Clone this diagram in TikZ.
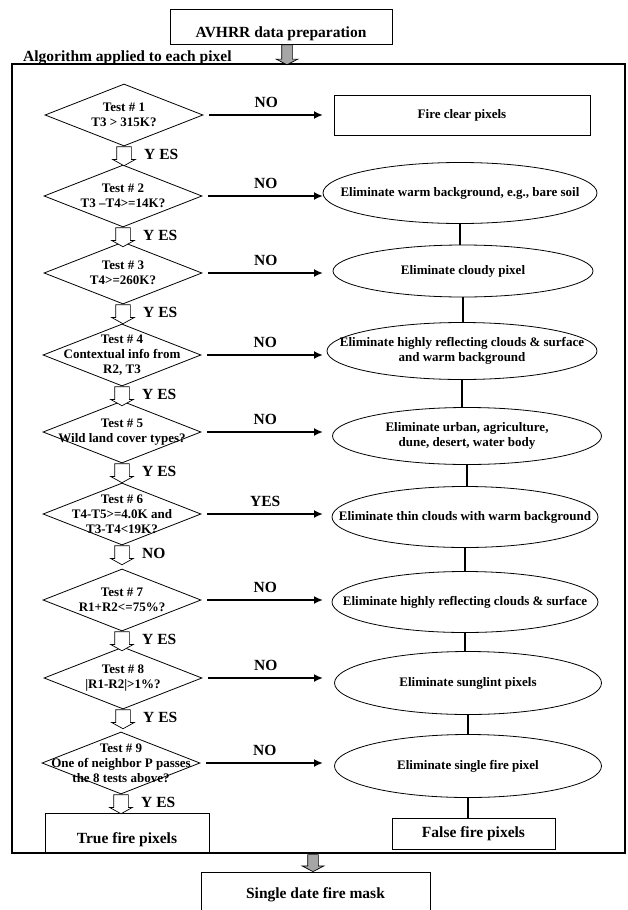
\documentclass[tikz,border=0pt]{standalone}
\usepackage{fontspec}
\setmainfont{Liberation Serif}
\usetikzlibrary{shapes.geometric,shapes.arrows,arrows.meta}

\begin{document}
\begin{tikzpicture}[x=1pt,y=-1pt,
big/.style = {font=\fontsize{15.5}{18}\selectfont\bfseries},
small/.style = {font=\fontsize{13}{15}\selectfont\bfseries},
every label/.style = {small,align=center,inner sep=0pt},
test/.style = {diamond,draw,line width=0.8pt,inner sep=0pt,minimum width=158pt,minimum height=62pt},
elim/.style = {ellipse,draw,line width=0.8pt,inner sep=0pt,minimum width=266pt,minimum height=61pt},
box/.style = {rectangle,draw,line width=0.8pt,inner sep=0pt,big},
low/.style = {text height=25pt,text depth=2.6pt},   % text sits under the middle
hollow/.style = {single arrow,draw,fill=white,line width=0.7pt,rotate=-90,inner xsep=0pt,inner ysep=7pt,
  minimum height=19pt,single arrow head extend=4pt,single arrow tip angle=122,anchor=tail},
block/.style = {single arrow,draw,fill=gray!70,line width=0.7pt,rotate=-90,inner xsep=0pt,inner ysep=5pt,
  minimum height=19pt,single arrow head extend=5.5pt,single arrow tip angle=125,anchor=tail},
flow/.style = {line width=2.5pt,-{Latex[length=9pt,width=8pt]}},
link/.style = {line width=2.5pt},
ans/.style = {big,inner sep=1pt}]
\useasboundingbox (0,0) rectangle (627,910);

\node[box,low,minimum width=222pt,minimum height=35pt] (prep) at (281,26.5) {AVHRR data preparation};
\node[draw,line width=2.5pt,inner sep=0pt,minimum width=613pt,minimum height=789pt] (frame) at (318.5,458.5) {};
\node[big,anchor=base west,inner sep=0pt] (algo) at (23,61) {Algorithm applied to each pixel};
\node[block,minimum height=20pt] (g1) at ([xshift=6pt]prep.south) {};

% tests
\node[test,label={center:Test \# 1\\T3 > 315K?}] (t1) at (124,115) {};
\node[test,label={center:Test \# 2\\T3 –T4>=14K?}] (t2) at (123,196) {};
\node[test,label={center:Test \# 3\\T4>=260K?}] (t3) at (123,273) {};
\node[test,label={center:Test \# 4\\Contextual info from\\R2, T3}] (t4) at (122,355) {};
\node[test,label={center:Test \# 5\\Wild land cover types?}] (t5) at (122,432) {};
\node[test,label={center:Test \# 6\\T4-T5>=4.0K and\\T3-T4<19K?}] (t6) at (122,514) {};
\node[test,label={center:Test \# 7\\R1+R2<=75\%?}] (t7) at (122,600) {};
\node[test,label={center:Test \# 8\\|R1-R2|>1\%?}] (t8) at (123,678) {};
\node[test,label={center:Test \# 9\\One of neighbor P passes\\the 8 tests above?}] (t9) at (121,763) {};
\node[box,low,minimum width=164pt,minimum height=39pt] (true) at (127,832.5) {True fire pixels};

% results
\node[box,small,minimum width=256pt,minimum height=40pt] (clear) at (462,115) {Fire clear pixels};
\node[elim,minimum width=274pt,label={center:Eliminate warm background, e.g., bare soil}] (soil) at (460,193) {};
\node[elim,minimum width=260pt,minimum height=52pt,label={center:Eliminate cloudy pixel}] (cloudy) at (463,271) {};
\node[elim,minimum width=270pt,minimum height=57pt,label={center:Eliminate highly reflecting clouds \& surface\\and warm background}] (refl) at (462,351) {};
\node[elim,minimum width=269pt,minimum height=57pt,label={center:Eliminate urban, agriculture,\\dune, desert, water body}] (urban) at (467,436) {};
\node[elim,label={center:Eliminate thin clouds with warm background}] (thin) at (465,517) {};
\node[elim,label={center:Eliminate highly reflecting clouds \& surface}] (surf) at (465,602) {};
\node[elim,minimum width=267pt,minimum height=63pt,label={center:Eliminate sunglint pixels}] (glint) at (468,683) {};
\node[elim,minimum width=267pt,minimum height=63pt,label={center:Eliminate single fire pixel}] (single) at (468,766) {};
\node[box,minimum width=163pt,minimum height=31pt] (false) at (473.5,833.5) {False fire pixels};

\node[block,minimum height=17pt] (g2) at (frame.south -| 313,0) {};
\node[box,minimum width=229pt,minimum height=46pt] (mask) at (315.5,895) {Single date fire mask};

% yes / no between tests
\node[hollow] (a1) at (t1.south) {};
\node[hollow] (a2) at (t2.south) {};
\node[hollow] (a3) at (t3.south) {};
\node[hollow] (a4) at (t4.south) {};
\node[hollow] (a5) at (t5.south) {};
\node[hollow] (a6) at (t6.south) {};
\node[hollow] (a7) at (t7.south) {};
\node[hollow] (a8) at (t8.south) {};
\node[hollow] (a9) at (t9.south) {};
\node[ans,anchor=west] (y1) at ([xshift=19pt]a1.center) {Y ES};
\node[ans,anchor=west] (y2) at ([xshift=19pt]a2.center) {Y ES};
\node[ans,anchor=west] (y3) at ([xshift=19pt]a3.center) {Y ES};
\node[ans,anchor=west] (y4) at ([xshift=19pt]a4.center) {Y ES};
\node[ans,anchor=west] (y5) at ([xshift=19pt]a5.center) {Y ES};
\node[ans,anchor=west] (y6) at ([xshift=19pt]a6.center) {NO};
\node[ans,anchor=west] (y7) at ([xshift=19pt]a7.center) {Y ES};
\node[ans,anchor=west] (y8) at ([xshift=19pt]a8.center) {Y ES};
\node[ans,anchor=west] (y9) at ([xshift=19pt]a9.center) {Y ES};

\coordinate (arr) at (323,0);
\draw[flow] ([xshift=6pt]t1.east) -- (t1.east -| arr) node[ans,midway,above=5pt] (n1) {NO};
\draw[flow] ([xshift=6pt]t2.east) -- (t2.east -| arr) node[ans,midway,above=5pt] (n2) {NO};
\draw[flow] ([xshift=6pt]t3.east) -- (t3.east -| arr) node[ans,midway,above=5pt] (n3) {NO};
\draw[flow] ([xshift=6pt]t4.east) -- (t4.east -| arr) node[ans,midway,above=5pt] (n4) {NO};
\draw[flow] ([xshift=6pt]t5.east) -- (t5.east -| arr) node[ans,midway,above=5pt] (n5) {NO};
\draw[flow] ([xshift=6pt]t6.east) -- (t6.east -| arr) node[ans,midway,above=5pt] (n6) {YES};
\draw[flow] ([xshift=6pt]t7.east) -- (t7.east -| arr) node[ans,midway,above=5pt] (n7) {NO};
\draw[flow] ([xshift=6pt]t8.east) -- (t8.east -| arr) node[ans,midway,above=5pt] (n8) {NO};
\draw[flow] ([xshift=6pt]t9.east) -- (t9.east -| arr) node[ans,midway,above=5pt] (n9) {NO};

\draw[link] (soil.south) -- (soil.south |- cloudy.north);
\draw[link] (cloudy.south) -- (cloudy.south |- refl.north);
\draw[link] (refl.south) -- (refl.south |- urban.north);
\draw[link] (urban.south) -- (urban.south |- thin.north);
\draw[link] (thin.south) -- (thin.south |- surf.north);
\draw[link] (surf.south) -- (surf.south |- glint.north);
\draw[link] (glint.south) -- (glint.south |- single.north);
\draw[link] (single.south) -- (single.south |- false.north);
\end{tikzpicture}
\end{document}
